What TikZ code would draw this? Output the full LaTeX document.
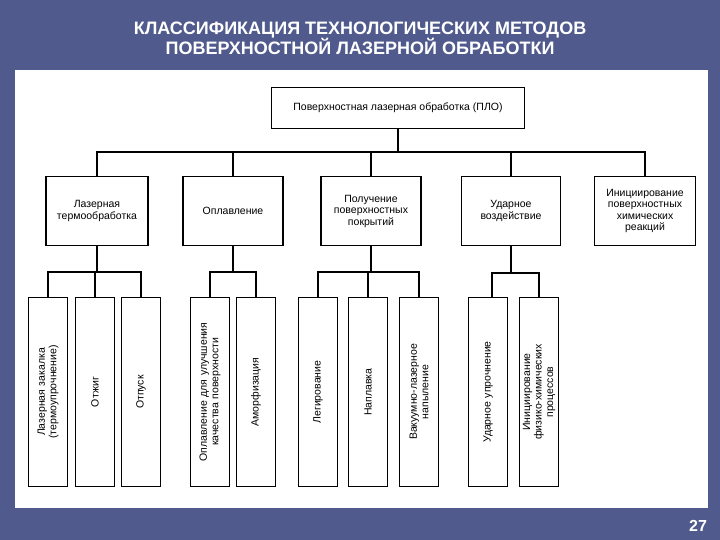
\documentclass[tikz,border=0pt]{standalone}
\usepackage{fontspec}
\setmainfont{Liberation Sans}
\begin{document}
\begin{tikzpicture}[x=1pt,y=-1pt,
 box/.style={draw,line width=1.7pt,fill=white,inner sep=1pt,font=\fontsize{10.5}{11.5}\selectfont,align=center},
 vbox/.style={box,minimum width=189pt,minimum height=39pt,rotate=90,text width=180pt},
 l2/.style={box,minimum width=100pt,minimum height=69pt,text width=97pt},
 ln/.style={line width=1.7pt}]
\fill[fill={rgb,255:red,80;green,90;blue,140}] (0,0) rectangle (720,540);
\useasboundingbox (0,0) rectangle (720,540);
\fill[white] (15,70) rectangle (708,508);
\node[white,font=\bfseries\fontsize{18}{20}\selectfont,align=center] (title) at (360,38) {КЛАССИФИКАЦИЯ ТЕХНОЛОГИЧЕСКИХ МЕТОДОВ\\ПОВЕРХНОСТНОЙ ЛАЗЕРНОЙ ОБРАБОТКИ};
\node[white,font=\bfseries\fontsize{16}{18}\selectfont] (num) at (698,526) {27};
\node[box,minimum width=253pt,minimum height=41pt] (top) at (398,108) {Поверхностная лазерная обработка (ПЛО)};
\node[l2,minimum width=102pt] (a) at (97,211) {Лазерная\\термообработка};
\node[l2] (b) at (233,211) {Оплавление};
\node[l2] (c) at (371,211) {Получение\\поверхностных\\покрытий};
\node[l2,minimum width=99pt] (d) at (511,211) {Ударное\\воздействие};
\node[l2,minimum width=101pt] (e) at (645,211) {Инициирование\\поверхностных\\химических\\реакций};
\coordinate (bus) at (0,152);
\draw[ln] (top.south) -- (top.south |- bus);
\draw[ln] (a.north) -- (a.north |- bus) -- (e.north |- bus) -- (e.north);
\foreach \n in {b,c,d} \draw[ln] (\n.north |- bus) -- (\n.north);
\node[vbox] (a1) at (48,392) {Лазерная закалка\\(термоупрочнение)};
\node[vbox] (a2) at (95,392) {Отжиг};
\node[vbox] (a3) at (141,392) {Отпуск};
\node[vbox] (b1) at (210,392) {Оплавление для улучшения\\качества поверхности};
\node[vbox] (b2) at (256,392) {Аморфизация};
\node[vbox] (c1) at (318,392) {Легирование};
\node[vbox] (c2) at (368,392) {Наплавка};
\node[vbox] (c3) at (419,392) {Вакуумно-лазерное\\напыление};
\node[vbox] (d1) at (488,392) {Ударное упрочнение};
\node[vbox] (d2) at (539,392) {Инициирование\\физико-химических\\процессов};
\coordinate (bus2) at (0,272);
\draw[ln] (a.south) -- (a.south |- bus2);
\draw[ln] (a1.east) -- (a1.east |- bus2) -- (a3.east |- bus2) -- (a3.east);
\draw[ln] (a2.east) -- (a2.east |- bus2);
\draw[ln] (b.south) -- (b.south |- bus2);
\draw[ln] (b1.east) -- (b1.east |- bus2) -- (b2.east |- bus2) -- (b2.east);
\draw[ln] (c.south) -- (c.south |- bus2);
\draw[ln] (c1.east) -- (c1.east |- bus2) -- (c3.east |- bus2) -- (c3.east);
\draw[ln] (c2.east) -- (c2.east |- bus2);
\draw[ln] (d.south) -- (d.south |- bus2);
\draw[ln] (d1.east) ++(4,0) -- ++(0,-24) -| (d2.east);
\end{tikzpicture}
\end{document}
